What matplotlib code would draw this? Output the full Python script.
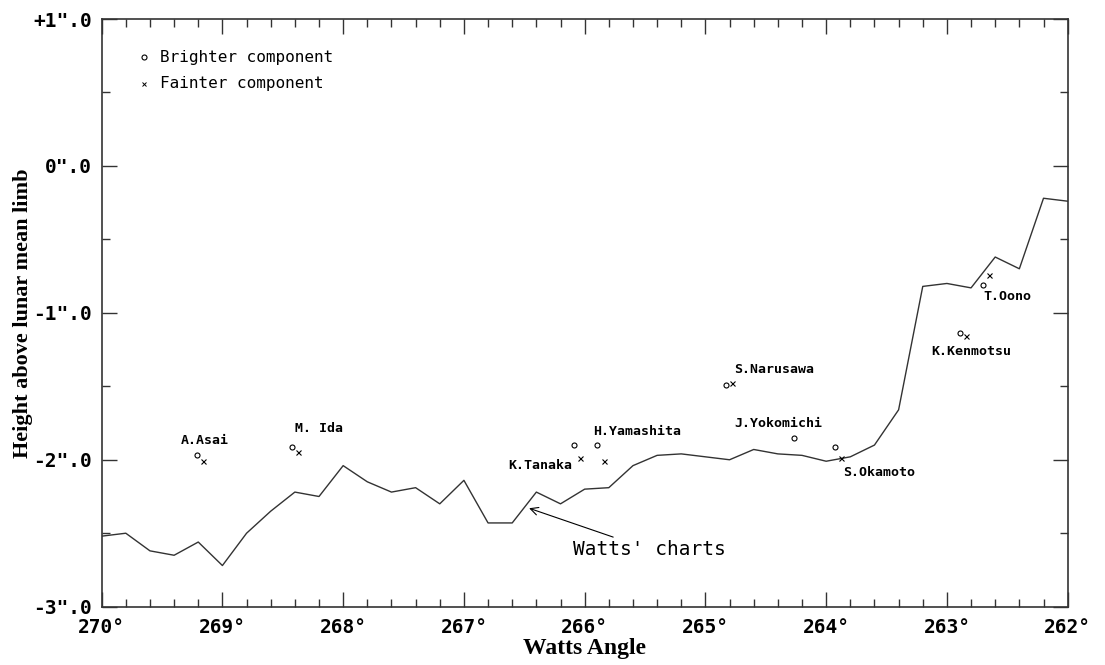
import matplotlib
matplotlib.use("Agg")
import matplotlib.pyplot as plt
from matplotlib.ticker import MultipleLocator, FixedLocator

# Watts' charts profile
watts_angle = [270.0, 269.8, 269.6, 269.4, 269.2, 269.0, 268.8, 268.6, 268.4, 268.2,
               268.0, 267.8, 267.6, 267.4, 267.2, 267.0, 266.8, 266.6, 266.4, 266.2,
               266.0, 265.8, 265.6, 265.4, 265.2, 265.0, 264.8, 264.6, 264.4, 264.2,
               264.0, 263.8, 263.6, 263.4, 263.2, 263.0, 262.8, 262.6, 262.4, 262.2, 262.0]
watts_height = [-2.52, -2.50, -2.62, -2.65, -2.56, -2.72, -2.50, -2.35, -2.22, -2.25,
                -2.04, -2.15, -2.22, -2.19, -2.30, -2.14, -2.43, -2.43, -2.22, -2.30,
                -2.20, -2.19, -2.04, -1.97, -1.96, -1.98, -2.00, -1.93, -1.96, -1.97,
                -2.01, -1.98, -1.90, -1.66, -0.82, -0.80, -0.83, -0.62, -0.70, -0.22, -0.24]

# Brighter component (circles)
bright_angle = [269.21, 268.42, 266.09, 265.90, 264.83, 264.27, 263.93, 262.89, 262.70]
bright_height = [-1.97, -1.91, -1.90, -1.90, -1.49, -1.85, -1.91, -1.14, -0.81]

# Fainter component (crosses)
faint_angle = [269.16, 268.37, 266.04, 265.84, 264.78, 263.88, 262.84, 262.65]
faint_height = [-2.01, -1.95, -1.99, -2.01, -1.48, -1.99, -1.16, -0.74]

# Observer names
obs_names = ["A.Asai", "M. Ida", "K.Tanaka", "H.Yamashita", "S.Narusawa",
             "J.Yokomichi", "S.Okamoto", "K.Kenmotsu", "T.Oono"]
obs_angle = [269.15, 268.40, 266.10, 265.93, 264.76, 264.76, 263.86, 263.13, 262.70]
obs_height = [-1.87, -1.79, -2.04, -1.81, -1.385, -1.75, -2.09, -1.26, -0.89]
obs_ha = ["center", "left", "right", "left", "left", "left", "left", "left", "left"]

xticks = [270, 269, 268, 267, 266, 265, 264, 263, 262]
xticklabels = ["270°", "269°", "268°", "267°", "266°", "265°", "264°", "263°", "262°"]
yticks = [1, 0, -1, -2, -3]
yticklabels = ['+1".0', '0".0', '-1".0', '-2".0', '-3".0']

mono = "DejaVu Sans Mono"
serif = "Liberation Serif"

fig = plt.figure(figsize=(11.05, 6.65), dpi=100)
ax = fig.add_axes([0.092, 0.0877, 0.8742, 0.8837])

ax.plot(watts_angle, watts_height, color="#333333", lw=1.0)
ax.plot(bright_angle, bright_height, linestyle="none", marker="o", ms=3.6,
        mfc="none", mec="black", mew=0.8)
ax.plot(faint_angle, faint_height, linestyle="none", marker="x", ms=3.6,
        color="black", mew=0.8)

for name, xa, ya, ha in zip(obs_names, obs_angle, obs_height, obs_ha):
    ax.text(xa, ya, name, ha=ha, va="center", fontsize=9.5, fontweight="bold",
            family=mono)

ax.annotate("Watts' charts", xy=(266.46, -2.33), xytext=(266.10, -2.61),
            ha="left", va="center", fontsize=14, family=mono,
            arrowprops=dict(arrowstyle="->", color="black", lw=0.8,
                            shrinkA=0, shrinkB=0))

# legend as text + markers
ax.plot([269.65], [0.74], linestyle="none", marker="o", ms=3.6, mfc="none",
        mec="black", mew=0.8)
ax.plot([269.65], [0.56], linestyle="none", marker="x", ms=3.2, color="black", mew=0.7)
ax.text(269.52, 0.74, "Brighter component", ha="left", va="center", fontsize=11.5, family=mono)
ax.text(269.52, 0.56, "Fainter component", ha="left", va="center", fontsize=11.5, family=mono)

ax.set_xlim(270, 262)
ax.set_ylim(-3, 1)
ax.xaxis.set_major_locator(FixedLocator(xticks))
ax.set_xticklabels(xticklabels)
ax.xaxis.set_minor_locator(MultipleLocator(0.2))
ax.yaxis.set_major_locator(FixedLocator(yticks))
ax.set_yticklabels(yticklabels)
ax.yaxis.set_minor_locator(MultipleLocator(0.5))

ax.tick_params(which="both", direction="in", top=True, right=True, color="#333333")
ax.tick_params(which="major", length=11, width=1)
ax.tick_params(which="minor", length=6, width=1)
ax.tick_params(axis="x", which="major", pad=8)
ax.tick_params(axis="y", which="major", pad=7)
for lab in ax.get_xticklabels() + ax.get_yticklabels():
    lab.set_family(mono)
    lab.set_fontweight("bold")
    lab.set_fontsize(14)

for sp in ax.spines.values():
    sp.set_color("#333333")
    sp.set_linewidth(1.2)

ax.set_xlabel("Watts Angle", family=serif, fontweight="bold", fontsize=17, labelpad=1)
ax.set_ylabel("Height above lunar mean limb", family=serif, fontweight="bold",
              fontsize=16, labelpad=0)

fig.savefig("out.png", dpi=100)
